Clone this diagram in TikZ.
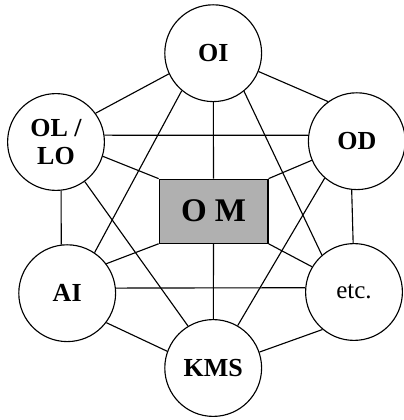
\documentclass[tikz,border=0pt]{standalone}
\usepackage{fontspec}
\setmainfont{Liberation Serif}
\usepackage{tikz}
\usetikzlibrary{positioning,calc}

\begin{document}
\begin{tikzpicture}[
    topic/.style={draw, circle, line width=0.8pt, minimum size=2.42cm, inner sep=0pt, align=center, font=\bfseries\fontsize{18.5}{20}\selectfont},
    core/.style={draw, line width=0.8pt, fill=black!31, minimum width=2.72cm, minimum height=1.6cm, inner sep=0pt, font=\bfseries\fontsize{23.5}{26}\selectfont},
    link/.style={line width=0.8pt}
]
\useasboundingbox (0,0) rectangle (10.1,10.5);

% centre box
\node[core] (OM) at (5.34,5.22) {O M};

% outer circles
\node[topic] (OI) at (5.33,9.17) {OI};
\node[topic] (OL) at (1.40,6.95) {OL /\\LO};
\node[topic] (OD) at (8.92,6.97) {OD};
\node[topic] (AI) at (1.68,3.17) {AI};
\node[topic, font=\fontsize{17.8}{20}\selectfont] (ETC) at (8.85,3.20) {etc.};
\node[topic] (KMS) at (5.33,1.30) {KMS};

% links from OI
\draw[link] (OI.205) -- (OL.36);
\draw[link] (OI.-22) -- (OD.126);
\draw[link] (OI) -- (OM);
\draw[link] (OI.230) -- (AI.56);
\draw[link] (OI.-51) -- (ETC.131);

% links from OL / LO
\draw[link] (OL.8) -- (OD.173);
\draw[link] (OL.-17) -- (OM.north west);
\draw[link] (OL.-84) -- (AI.97);
\draw[link] (OL.-54) -- (KMS.121);

% links from OD
\draw[link] (OD.203) -- (OM.north east);
\draw[link] (OD.-96) -- (ETC.91);
\draw[link] (OD.229) -- (KMS.60);

% links from AI, etc., KMS
\draw[link] (AI.37) -- (OM.south west);
\draw[link] (AI.6) -- (ETC.175);
\draw[link] (AI.-37) -- (KMS.160);
\draw[link] (ETC.149) -- (OM.south east);
\draw[link] (ETC.230) -- (KMS.19);
\draw[link] (KMS) -- (OM);

\end{tikzpicture}
\end{document}
